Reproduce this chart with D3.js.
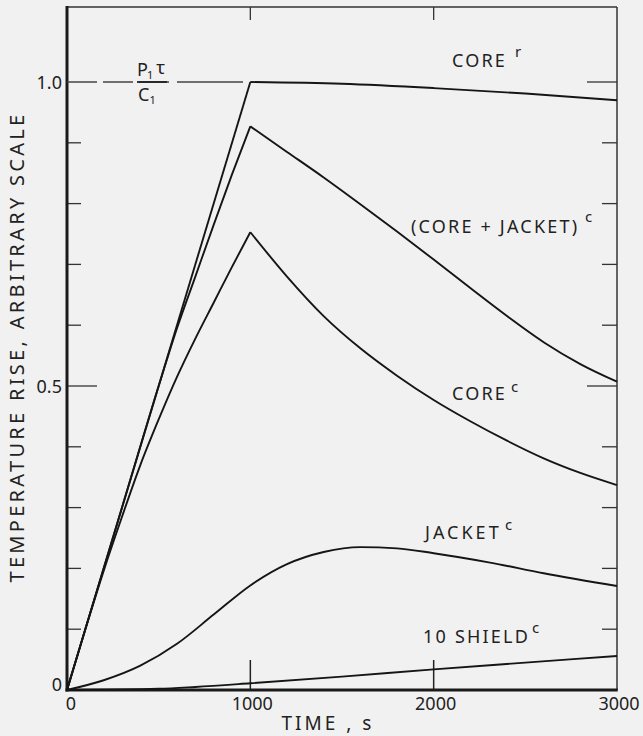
<!DOCTYPE html>
<html>
<head>
<meta charset="utf-8">
<script src="https://cdn.jsdelivr.net/npm/d3@7"></script>
<style>
  html, body { margin: 0; padding: 0; background: #f1f1f1; }
  svg { display: block; }
  text { font-family: "Noto Sans", "DejaVu Sans", sans-serif; fill: #222; }
</style>
</head>
<body>
<div id="chart"></div>
<script>
// temperature rise vs time

var timeTicks = [0, 1000, 2000, 3000],
    timeTickLabels = ["0", "1000", "2000", "3000"],
    tempTicks = [0, 0.5, 1.0],
    tempTickLabels = ["0", "0.5", "1.0"],
    tempMinor = [0.1, 0.2, 0.3, 0.4, 0.6, 0.7, 0.8, 0.9];

// each curve: [time s, temperature rise]
var coreRRise = [[0, 0], [1000, 1.0]];
var coreRFall = [[1000, 1.0], [1500, 0.997], [2000, 0.990], [2500, 0.981], [3000, 0.970]];

var coreJacketRise = [[0, 0], [300, 0.30], [500, 0.50], [600, 0.595], [700, 0.68],
                      [800, 0.765], [900, 0.848], [1000, 0.927]];
var coreJacketFall = [[1000, 0.927], [1200, 0.885], [1400, 0.843], [1600, 0.799],
                      [1800, 0.754], [2000, 0.708], [2200, 0.661], [2400, 0.615],
                      [2600, 0.572], [2800, 0.536], [3000, 0.507]];

var coreCRise = [[0, 0], [100, 0.10], [200, 0.196], [300, 0.285], [400, 0.370], [500, 0.445],
                 [600, 0.515], [700, 0.578], [800, 0.637], [900, 0.696], [1000, 0.753]];
var coreCFall = [[1000, 0.753], [1200, 0.680], [1400, 0.615], [1600, 0.562], [1800, 0.517],
                 [2000, 0.477], [2200, 0.442], [2400, 0.410], [2600, 0.381], [2800, 0.357],
                 [3000, 0.337]];

var jacketC = [[0, 0], [200, 0.016], [400, 0.040], [600, 0.076], [800, 0.124], [1000, 0.172],
               [1200, 0.207], [1400, 0.227], [1600, 0.235], [1800, 0.233], [2000, 0.225],
               [2300, 0.210], [2600, 0.192], [3000, 0.171]];

var shieldC = [[0, 0], [500, 0.002], [700, 0.005], [1000, 0.011], [1500, 0.022],
               [2000, 0.034], [2500, 0.045], [3000, 0.056]];

var curveNames = ["CORE", "(CORE + JACKET)", "CORE", "JACKET", "10 SHIELD"],
    curveSups = ["r", "c", "c", "c", "c"];

var width = 643,
    height = 736,
    margin = {top: 7, right: 26, bottom: 46, left: 67};

var svg = d3.select("#chart").append("svg")
    .attr("width", width)
    .attr("height", height);

var x = d3.scaleLinear().domain([0, 3000]).range([margin.left, width - margin.right]);
var y = d3.scaleLinear().domain([0, 1.0]).range([height - margin.bottom, height - margin.bottom - 608]);

var x0 = x.range()[0], x1 = x.range()[1],
    yb = y(0), yt = margin.top;

// frame
svg.append("line").attr("x1", x0).attr("x2", x1).attr("y1", yt).attr("y2", yt)
  .attr("stroke", "#333").attr("stroke-width", 1.5);
svg.append("line").attr("x1", x1).attr("x2", x1).attr("y1", yt).attr("y2", yb)
  .attr("stroke", "#333").attr("stroke-width", 1.5);

// left & right ticks
var leftTicks = tempMinor.concat([0.5]);
svg.selectAll(".lt").data(leftTicks).enter().append("line")
  .attr("x1", x0).attr("x2", function(d) { return x0 + (d === 0.5 ? 30 : 14); })
  .attr("y1", y).attr("y2", y)
  .attr("stroke", "#333").attr("stroke-width", 1.3);

var rightTicks = tempMinor.concat([0.5, 1.0]);
svg.selectAll(".rt").data(rightTicks).enter().append("line")
  .attr("x1", x1).attr("x2", function(d) { return x1 - (d === 0.5 || d === 1.0 ? 30 : 15); })
  .attr("y1", y).attr("y2", y)
  .attr("stroke", "#333").attr("stroke-width", 1.3);

// time ticks, bottom long and top short
svg.selectAll(".bt").data(timeTicks.slice(1, 3)).enter().append("line")
  .attr("x1", x).attr("x2", x).attr("y1", yb).attr("y2", yb - 30)
  .attr("stroke", "#222").attr("stroke-width", 1.5);
svg.selectAll(".tt").data(timeTicks.slice(1, 3)).enter().append("line")
  .attr("x1", x).attr("x2", x).attr("y1", yt).attr("y2", yt + 13)
  .attr("stroke", "#333").attr("stroke-width", 1.3);

// thick axes
svg.append("line").attr("x1", x0).attr("x2", x0).attr("y1", yt - 1).attr("y2", yb + 1.5)
  .attr("stroke", "#1a1a1a").attr("stroke-width", 3);
svg.append("line").attr("x1", x0 - 1.5).attr("x2", x1 + 0.75).attr("y1", yb).attr("y2", yb)
  .attr("stroke", "#1a1a1a").attr("stroke-width", 3);

// dashed reference line at P1 tau / C1
svg.append("line")
  .attr("x1", x(0)).attr("x2", x(960)).attr("y1", y(1.0)).attr("y2", y(1.0))
  .attr("stroke", "#444").attr("stroke-width", 1.3)
  .attr("stroke-dasharray", "30,6,30,6,30,8,70");

// curves
var line = d3.line().x(function(d) { return x(d[0]); }).y(function(d) { return y(d[1]); })
  .curve(d3.curveMonotoneX);

var curves = [coreRRise, coreRFall, coreJacketRise, coreJacketFall,
              coreCRise, coreCFall, jacketC, shieldC];
svg.selectAll(".curve").data(curves).enter().append("path")
  .attr("d", line)
  .attr("fill", "none")
  .attr("stroke", "#151515")
  .attr("stroke-width", 1.9)
  .attr("stroke-linejoin", "miter");

// tick labels
svg.selectAll(".yl").data(tempTicks).enter().append("text")
  .attr("x", x0 - 5)
  .attr("y", function(d) { return d === 0 ? y(d) - 5 : y(d) + 1; })
  .attr("dy", "0.35em")
  .attr("text-anchor", "end")
  .style("font-size", "18px")
  .text(function(d, i) { return tempTickLabels[i]; });

svg.selectAll(".xl").data(timeTicks).enter().append("text")
  .attr("x", function(d, i) { return x(d) + (i === 0 ? 4 : 2); })
  .attr("y", yb + 20)
  .attr("text-anchor", "middle")
  .style("font-size", "18px")
  .text(function(d, i) { return timeTickLabels[i]; });

// axis titles
svg.append("text")
  .attr("x", 328).attr("y", yb + 40)
  .attr("text-anchor", "middle")
  .style("font-size", "19px").style("letter-spacing", "3px")
  .text("TIME ,  s");

svg.append("text")
  .attr("transform", "translate(24,347) rotate(-90)")
  .attr("text-anchor", "middle")
  .style("font-size", "20px").style("letter-spacing", "3.3px")
  .text("TEMPERATURE RISE, ARBITRARY SCALE");

// fraction label P1 tau / C1
var fx = x(0) + 85, fy = y(1.0);
svg.append("line").attr("x1", fx - 15).attr("x2", fx + 15).attr("y1", fy).attr("y2", fy)
  .attr("stroke", "#222").attr("stroke-width", 1.8);
var num = svg.append("text").attr("x", fx - 15).attr("y", fy - 6).style("font-size", "18px");
num.append("tspan").text("P");
num.append("tspan").attr("dy", 3).attr("dx", -1).style("font-size", "11px").text("1");
num.append("tspan").attr("dy", -5).attr("dx", 3).style("font-size", "18px").text("τ");
var den = svg.append("text").attr("x", fx - 14).attr("y", fy + 19).style("font-size", "18px");
den.append("tspan").text("C");
den.append("tspan").attr("dy", 3).style("font-size", "11px").text("1");

// curve labels: anchor at time/temperature of the label's baseline start
var labelAt = [[2100, 0.970], [1876, 0.752], [2100, 0.477], [1953, 0.248], [1942, 0.077]],
    supShift = [[63, -10], [174, -11], [59, -8], [80, -9], [109, -10]];
labelAt.forEach(function(p, i) {
  var lx = x(p[0]), ly = y(p[1]);
  if (i === 0) ly = y(1.0) - 15;
  svg.append("text")
    .attr("x", lx).attr("y", ly)
    .style("font-size", "18px").style("letter-spacing", i === 3 ? "3px" : "2.2px")
    .text(curveNames[i]);
  svg.append("text")
    .attr("x", lx + supShift[i][0]).attr("y", ly + supShift[i][1])
    .style("font-size", "15px")
    .text(curveSups[i]);
});
</script>
</body>
</html>
